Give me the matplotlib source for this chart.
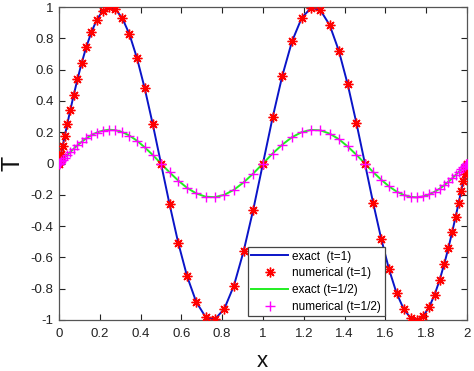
import matplotlib
matplotlib.use("Agg")
import matplotlib.pyplot as plt
from matplotlib.ticker import FixedLocator, FixedFormatter

plt.rcParams['font.family'] = ['Liberation Sans', 'DejaVu Sans']
plt.rcParams['axes.unicode_minus'] = False

# node positions
x = [0, 0.0011, 0.0045, 0.0102, 0.0181, 0.0282, 0.0405, 0.0550, 0.0716, 0.0904,
     0.1112, 0.1340, 0.1588, 0.1854, 0.2140, 0.2443, 0.2763, 0.3099, 0.3451, 0.3818,
     0.4199, 0.4594, 0.5, 0.5418, 0.5846, 0.6283, 0.6729, 0.7183, 0.7642, 0.8108,
     0.8577, 0.9049, 0.9524, 1.0,
     1.0476, 1.0951, 1.1423, 1.1892, 1.2358, 1.2817, 1.3271, 1.3717, 1.4154, 1.4582,
     1.5, 1.5406, 1.5801, 1.6182, 1.6549, 1.6901, 1.7237, 1.7557, 1.7860, 1.8146,
     1.8412, 1.8660, 1.8888, 1.9096, 1.9284, 1.9450, 1.9595, 1.9718, 1.9819, 1.9898,
     1.9955, 1.9989, 2.0]

# T at t=1
T1 = [0, 0.007, 0.029, 0.064, 0.113, 0.176, 0.252, 0.339, 0.435, 0.538,
      0.643, 0.746, 0.840, 0.919, 0.975, 0.999, 0.986, 0.930, 0.827, 0.676,
      0.482, 0.253, 0, -0.259, -0.507, -0.722, -0.885, -0.980, -0.996, -0.928,
      -0.780, -0.562, -0.295, 0,
      0.295, 0.562, 0.780, 0.928, 0.996, 0.980, 0.885, 0.722, 0.507, 0.259,
      0, -0.253, -0.482, -0.676, -0.827, -0.930, -0.986, -0.999, -0.975, -0.919,
      -0.840, -0.746, -0.643, -0.538, -0.435, -0.339, -0.252, -0.176, -0.113, -0.064,
      -0.029, -0.007, 0]

# T at t=1/2
T2 = [0, 0.0015, 0.006, 0.014, 0.024, 0.038, 0.054, 0.073, 0.094, 0.116,
      0.139, 0.161, 0.181, 0.198, 0.210, 0.216, 0.213, 0.201, 0.179, 0.146,
      0.104, 0.055, 0, -0.056, -0.109, -0.156, -0.191, -0.212, -0.215, -0.200,
      -0.168, -0.121, -0.064, 0,
      0.064, 0.121, 0.168, 0.200, 0.215, 0.212, 0.191, 0.156, 0.109, 0.056,
      0, -0.055, -0.104, -0.146, -0.179, -0.201, -0.213, -0.216, -0.210, -0.198,
      -0.181, -0.161, -0.139, -0.116, -0.094, -0.073, -0.054, -0.038, -0.024, -0.014,
      -0.006, -0.0015, 0]

xticks = [0, 0.2, 0.4, 0.6, 0.8, 1, 1.2, 1.4, 1.6, 1.8, 2]
xticklabels = ['0', '0.2', '0.4', '0.6', '0.8', '1', '1.2', '1.4', '1.6', '1.8', '2']
yticks = [-1, -0.8, -0.6, -0.4, -0.2, 0, 0.2, 0.4, 0.6, 0.8, 1]
yticklabels = ['-1', '-0.8', '-0.6', '-0.4', '-0.2', '0', '0.2', '0.4', '0.6', '0.8', '1']

fig = plt.figure(figsize=(4.74, 3.71), dpi=100)
ax = fig.add_axes([0.1245, 0.1375, 0.8605, 0.8435])

ax.plot(x, T1, color='#0a14c8', lw=1.4, label='exact  (t=1)', zorder=2)
ax.plot(x, T1, linestyle='none', marker=(8, 2, 0), markersize=7, mew=1.0,
        color='#ff0000', label='numerical (t=1)', zorder=3)
ax.plot(x, T2, color='#22ee22', lw=1.4, label='exact (t=1/2)', zorder=2)
ax.plot(x, T2, linestyle='none', marker='+', markersize=7, mew=1.0,
        color='#ff00ff', label='numerical (t=1/2)', zorder=3)

ax.set_xlim(0, 2)
ax.set_ylim(-1, 1)
ax.xaxis.set_major_locator(FixedLocator(xticks))
ax.xaxis.set_major_formatter(FixedFormatter(xticklabels))
ax.yaxis.set_major_locator(FixedLocator(yticks))
ax.yaxis.set_major_formatter(FixedFormatter(yticklabels))
ax.tick_params(direction='in', top=True, right=True, length=4, width=0.8,
               labelsize=9.5, colors='#222222')
ax.tick_params(axis='x', pad=5.5)
ax.tick_params(axis='y', pad=4)
for s in ax.spines.values():
    s.set_color('#555555')
    s.set_linewidth(0.9)

fig.text(262 / 474, 1 - 367 / 371, 'x', fontsize=16, ha='center', va='baseline',
         color='#111111')
fig.text(1 / 474, 1 - 163.5 / 371, 'T', fontsize=18, rotation=90, ha='left',
         va='center', color='#111111')

leg = ax.legend(loc='lower left', bbox_to_anchor=(0.463, 0.012), fontsize=8.5,
                handlelength=3.1, handletextpad=0.35, borderpad=0.3,
                labelspacing=0.4, fancybox=False, framealpha=1,
                edgecolor='#444444', borderaxespad=0)
leg.get_frame().set_linewidth(0.9)

fig.savefig('out.png', dpi=100)
